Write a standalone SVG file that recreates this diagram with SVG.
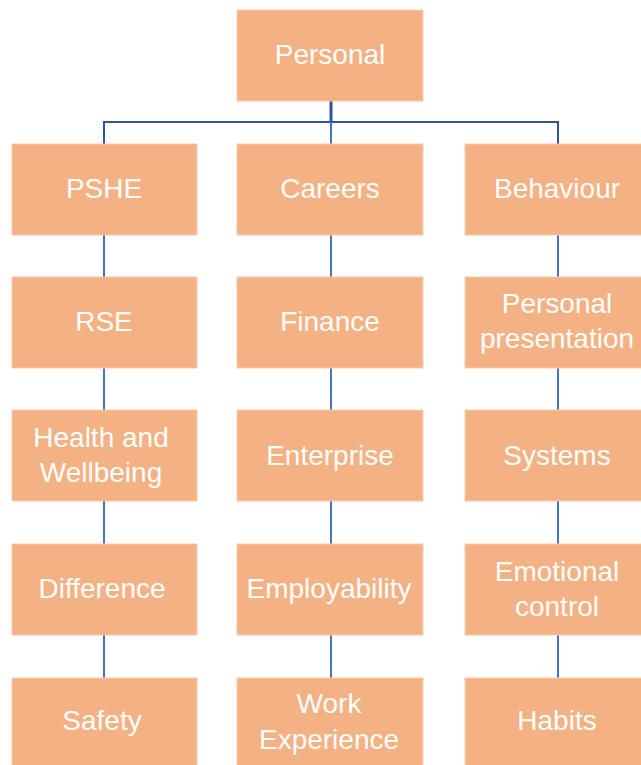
<svg xmlns="http://www.w3.org/2000/svg" width="641" height="765" viewBox="0 0 641 765">
<style>
.box{fill:#F4B183;stroke:#F8CBAD;stroke-width:1}
.t{font-family:"Liberation Sans",Arial,sans-serif;font-size:28px;fill:#FFFFFF;text-anchor:middle;dominant-baseline:central}
.c{stroke:#4472C4;stroke-width:2;fill:none}
</style>
<rect width="641" height="765" fill="#FFFFFF"/>
<g id="connectors">
<path class="c" d="M331,101 V122" style="stroke:#2F5597;stroke-width:3"/>
<path class="c" d="M104,144 V122 H558 V144" style="stroke:#2F5597"/>
<path class="c" d="M331,122 V144"/>
<path class="c" d="M104,235 V277 M104,368 V410 M104,501 V544 M104,635 V678"/>
<path class="c" d="M331,235 V277 M331,368 V410 M331,501 V544 M331,635 V678"/>
<path class="c" d="M558,235 V277 M558,368 V410 M558,501 V544 M558,635 V678"/>
</g>
<g id="personal"><rect class="box" x="237" y="10" width="186" height="91"/><text class="t" x="330" y="54">Personal</text></g>
<g id="pshe"><rect class="box" x="12" y="144" width="185" height="91"/><text class="t" x="104" y="188">PSHE</text></g>
<g id="careers"><rect class="box" x="237" y="144" width="186" height="91"/><text class="t" x="330" y="188">Careers</text></g>
<g id="behaviour"><rect class="box" x="465" y="144" width="186" height="91"/><text class="t" x="557" y="188">Behaviour</text></g>
<g id="rse"><rect class="box" x="12" y="277" width="185" height="91"/><text class="t" x="104" y="321">RSE</text></g>
<g id="finance"><rect class="box" x="237" y="277" width="186" height="91"/><text class="t" x="330" y="321">Finance</text></g>
<g id="personal-presentation"><rect class="box" x="465" y="277" width="186" height="91"/><text class="t" x="557" y="303">Personal</text><text class="t" x="557" y="338">presentation</text></g>
<g id="health"><rect class="box" x="12" y="410" width="185" height="91"/><text class="t" x="101" y="437">Health and</text><text class="t" x="101" y="472">Wellbeing</text></g>
<g id="enterprise"><rect class="box" x="237" y="410" width="186" height="91"/><text class="t" x="330" y="455">Enterprise</text></g>
<g id="systems"><rect class="box" x="465" y="410" width="186" height="91"/><text class="t" x="557" y="455">Systems</text></g>
<g id="difference"><rect class="box" x="12" y="544" width="185" height="91"/><text class="t" x="102" y="588">Difference</text></g>
<g id="employability"><rect class="box" x="237" y="544" width="186" height="91"/><text class="t" x="329" y="588">Employability</text></g>
<g id="emotional"><rect class="box" x="465" y="544" width="186" height="91"/><text class="t" x="557" y="571">Emotional</text><text class="t" x="557" y="606">control</text></g>
<g id="safety"><rect class="box" x="12" y="678" width="185" height="91"/><text class="t" x="102" y="720">Safety</text></g>
<g id="work"><rect class="box" x="237" y="678" width="186" height="91"/><text class="t" x="329" y="703">Work</text><text class="t" x="329" y="739">Experience</text></g>
<g id="habits"><rect class="box" x="465" y="678" width="186" height="91"/><text class="t" x="557" y="720">Habits</text></g>
</svg>
